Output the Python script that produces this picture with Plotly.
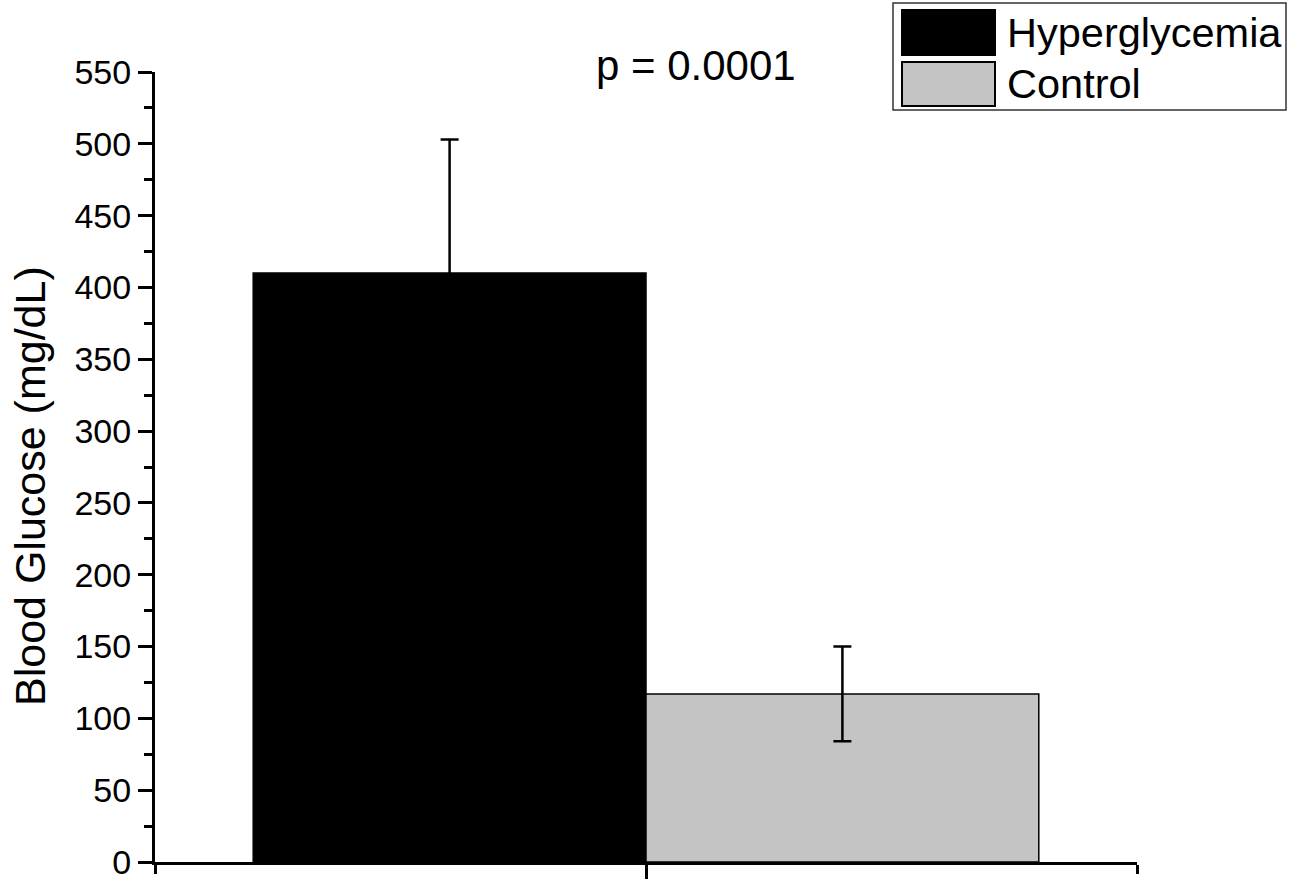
import plotly.graph_objects as go

# ---- data ----
groups = ["Hyperglycemia", "Control"]
means = [410, 117]
errors = [93, 33]
colors = ["#000000", "#c4c4c4"]
y_ticks = [0, 50, 100, 150, 200, 250, 300, 350, 400, 450, 500, 550]
p_text = "p = 0.0001"
y_title = "Blood Glucose (mg/dL)"

FONT = "Liberation Sans, Arial, sans-serif"
W, H = 1303, 879
ML, MR, MT, MB = 155, 166, 72, 17
PW = W - ML - MR
PH = H - MT - MB


def px_x(px):
    return (px - ML) / PW


def px_y(py):
    return (H - MB - py) / PH


fig = go.Figure()
for name, m, e, c in zip(groups, means, errors, colors):
    fig.add_trace(go.Bar(
        x=[0], y=[m], name=name,
        marker=dict(color=c, line=dict(color="#000000", width=1.5)),
        error_y=dict(type="data", array=[e], symmetric=True,
                     color="#000000", thickness=2.5, width=9),
        showlegend=False,
    ))

fig.update_layout(
    width=W, height=H,
    margin=dict(l=ML, r=MR, t=MT, b=MB, pad=0, autoexpand=False),
    paper_bgcolor="white", plot_bgcolor="white",
    barmode="group", bargap=0.2,
    font=dict(family=FONT, color="#000000"),
    xaxis=dict(
        range=[-0.5, 0.5], showgrid=False, zeroline=False, automargin=False,
        showline=True, linecolor="#000000", linewidth=3,
        tickmode="array", tickvals=[0], ticktext=[""],
        ticks="outside", ticklen=16, tickwidth=3, tickcolor="#000000",
        minor=dict(tickmode="array", tickvals=[-0.5, 0.5], ticks="outside",
                   ticklen=9, tickwidth=3, tickcolor="#000000"),
    ),
    yaxis=dict(
        range=[0, 550], showgrid=False, zeroline=False, automargin=False,
        showline=True, linecolor="#000000", linewidth=3,
        tickmode="array", tickvals=y_ticks, ticklabeloverflow="allow",
        ticks="outside", ticklen=14, tickwidth=3, tickcolor="#000000",
        tickfont=dict(size=34, family=FONT, color="#000000"),
        minor=dict(dtick=25, ticks="outside", ticklen=8, tickwidth=3,
                   tickcolor="#000000"),
    ),
)

annotations = [
    dict(text=y_title, textangle=-90, x=px_x(30), y=px_y(486),
         xref="paper", yref="paper", xanchor="center", yanchor="middle",
         showarrow=False, font=dict(size=43, family=FONT)),
    dict(text=p_text, x=px_x(696), y=px_y(66),
         xref="paper", yref="paper", xanchor="center", yanchor="middle",
         showarrow=False, font=dict(size=42, family=FONT)),
]

# legend box drawn manually to match large swatches
shapes = [
    dict(type="rect", xref="paper", yref="paper",
         x0=px_x(893), x1=px_x(1286), y0=px_y(110), y1=px_y(3),
         line=dict(color="#333333", width=1.5), fillcolor="white", layer="below"),
]
sw_rows = [(10, 55), (62, 106)]
for (t, b), name, c in zip(sw_rows, groups, colors):
    shapes.append(dict(type="rect", xref="paper", yref="paper",
                       x0=px_x(902), x1=px_x(995), y0=px_y(b), y1=px_y(t),
                       line=dict(color="#000000", width=2), fillcolor=c))
    annotations.append(dict(text=name, x=px_x(1005), y=px_y((t + b) / 2),
                            xref="paper", yref="paper", xanchor="left",
                            yanchor="middle", showarrow=False,
                            font=dict(size=41.5, family=FONT)))

fig.update_layout(annotations=annotations, shapes=shapes)
fig.write_html("out.html")
